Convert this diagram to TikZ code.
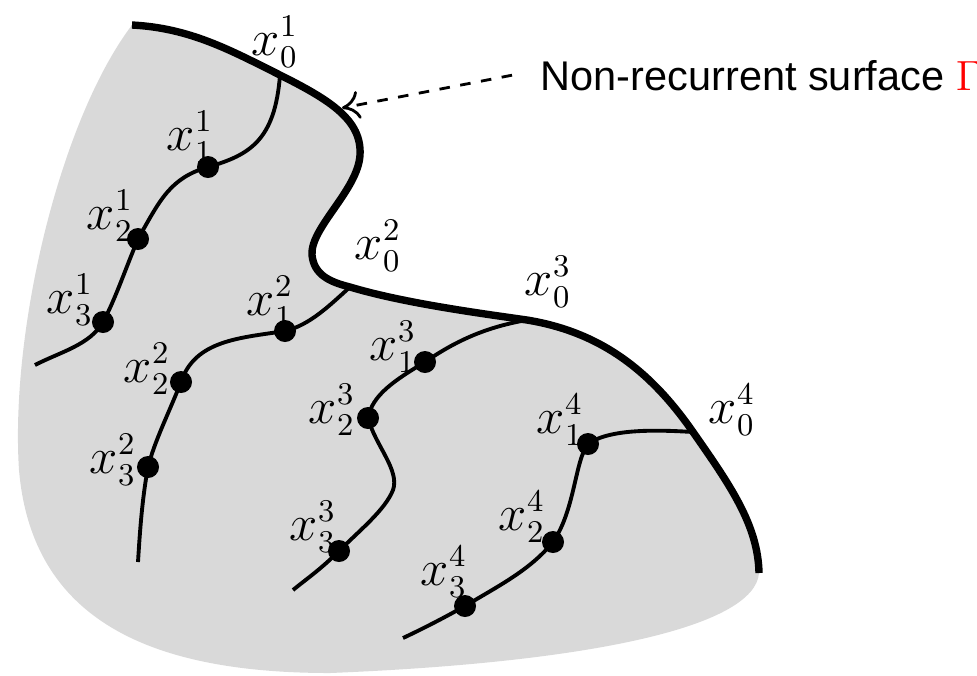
\documentclass[tikz,border=0pt]{standalone}
\usepackage{fontspec}
\setsansfont{Liberation Sans}
\usepackage{xcolor}
\usetikzlibrary{arrows.meta}

\begin{document}
\begin{tikzpicture}[
  x=0.01cm, y=-0.01cm,
  every node/.style={font=\fontsize{13.5}{15}\selectfont},
  region/.style={fill=black!15, draw=none},
  surface/.style={line width=2.1pt},
  traj/.style={line width=1.1pt},
  dot/.style={circle, fill=black, inner sep=0pt, minimum size=0.22cm},
  note/.style={font=\sffamily\fontsize{11.8}{14}\selectfont, inner xsep=0.28cm},
  pointer/.style={-{To[length=5pt,width=8pt]}, dashed, thick}
]
\useasboundingbox (0,0) rectangle (977,675);
\clip (0,0) rectangle (977,675);

% Surface points
\coordinate (s) at (132,25);
\coordinate (j1) at (280,75);
\coordinate (b1) at (360,155);
\coordinate (b2) at (312,255);
\coordinate (j2) at (350,287);
\coordinate (j3) at (527,320);
\coordinate (j4) at (693,432);
\coordinate (e) at (759,573);

% Region
\fill[region] (s) .. controls (190,28) and (230,50) .. (j1)
  .. controls (330,100) and (362,120) .. (b1)
  .. controls (358,190) and (310,228) .. (b2)
  .. controls (314,275) and (330,282) .. (j2)
  .. controls (400,302) and (470,312) .. (j3)
  .. controls (600,332) and (650,370) .. (j4)
  .. controls (730,485) and (758,525) .. (e)
  .. controls (755,625) and (600,662) .. (330,673)
  .. controls (150,673) and (32,620) .. (19,470)
  .. controls (10,330) and (60,120) .. (s) -- cycle;

% Trajectory points
\coordinate (p11) at (208,167);
\coordinate (p21) at (138,239);
\coordinate (p31) at (103,322);
\coordinate (p12) at (285,331);
\coordinate (p22) at (181,382);
\coordinate (p32) at (148,467);
\coordinate (p13) at (425,362);
\coordinate (p23) at (368,418);
\coordinate (p33) at (339,551);
\coordinate (p14) at (588,444);
\coordinate (p24) at (553,542);
\coordinate (p34) at (465,606);

% Trajectories
\draw[traj] (j1) .. controls (275,140) and (250,155) .. (p11)
  .. controls (170,178) and (160,200) .. (p21)
  .. controls (125,270) and (115,300) .. (p31)
  .. controls (90,345) and (60,352) .. (35,365);
\draw[traj] (j2) .. controls (330,305) and (310,325) .. (p12)
  .. controls (240,338) and (195,340) .. (p22)
  .. controls (168,415) and (155,440) .. (p32)
  .. controls (142,500) and (140,530) .. (138,562);
\draw[traj] (j3) .. controls (480,328) and (450,345) .. (p13)
  .. controls (395,380) and (372,395) .. (p23)
  .. controls (375,445) and (400,470) .. (393,490)
  .. controls (385,510) and (360,530) .. (p33)
  .. controls (320,570) and (305,580) .. (293,590);
\draw[traj] (j4) .. controls (660,430) and (610,428) .. (p14)
  .. controls (575,460) and (575,510) .. (p24)
  .. controls (530,570) and (500,585) .. (p34)
  .. controls (440,620) and (420,630) .. (403,638);

% Non-recurrent surface
\draw[surface] (s) .. controls (190,28) and (230,50) .. (j1)
  .. controls (330,100) and (362,120) .. (b1)
  .. controls (358,190) and (310,228) .. (b2)
  .. controls (314,275) and (330,282) .. (j2)
  .. controls (400,302) and (470,312) .. (j3)
  .. controls (600,332) and (650,370) .. (j4)
  .. controls (730,485) and (758,525) .. (e);

% Dots
\foreach \p in {p11,p21,p31,p12,p22,p32,p13,p23,p33,p14,p24,p34}
  \node[dot] (d-\p) at (\p) {};

% Labels
\node (l01) at (275,42) {$x_0^1$};
\node (l11) at (190,137) {$x_1^1$};
\node (l21) at (110,216) {$x_2^1$};
\node (l31) at (70,300) {$x_3^1$};
\node (l02) at (378,246) {$x_0^2$};
\node (l12) at (270,302) {$x_1^2$};
\node (l22) at (147,369) {$x_2^2$};
\node (l32) at (113,460) {$x_3^2$};
\node (l03) at (548,282) {$x_0^3$};
\node (l13) at (393,347) {$x_1^3$};
\node (l23) at (332,410) {$x_2^3$};
\node (l33) at (313,527) {$x_3^3$};
\node (l04) at (732,410) {$x_0^4$};
\node (l14) at (560,420) {$x_1^4$};
\node (l24) at (522,517) {$x_2^4$};
\node (l34) at (444,572) {$x_3^4$};

% Pointer
\node[note, anchor=base west] (gam) at (512,90) {Non-recurrent surface \textcolor{red}{$\Gamma$}};
\coordinate (tip) at (342,108);
\draw[pointer] (gam.west) -- (tip);

\end{tikzpicture}
\end{document}
